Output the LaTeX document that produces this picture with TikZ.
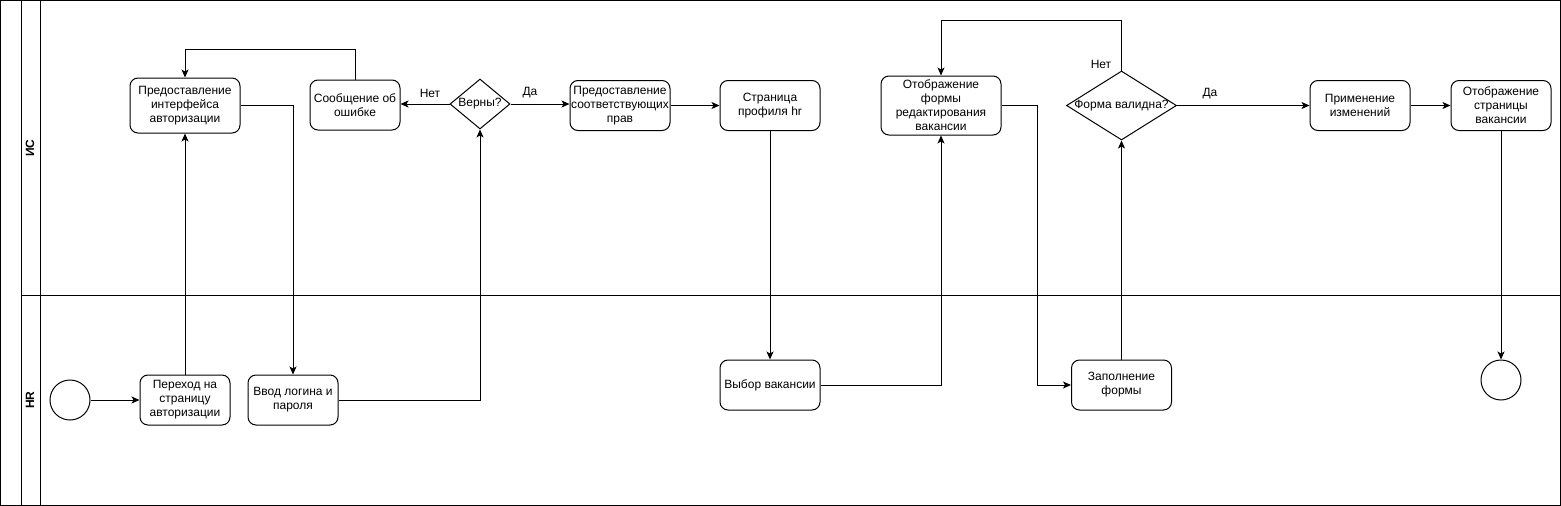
\documentclass[tikz,border=0pt]{standalone}
\usepackage{fontspec}
\setmainfont{Liberation Sans}
\usetikzlibrary{shapes.geometric,arrows.meta}
\begin{document}
\begin{tikzpicture}[x=1pt,y=-1pt,
  every node/.style={font=\fontsize{12}{14}\selectfont},
  task/.style={draw, rounded corners=8pt, align=center, minimum width=100pt, minimum height=50pt, inner sep=1pt, line width=1pt},
  gate/.style={draw, diamond, inner sep=0pt, line width=1pt},
  evt/.style={draw, circle, minimum size=40pt, inner sep=0pt, line width=1pt},
  arr/.style={-{Stealth[length=8pt,width=7pt,inset=2pt]}, line width=1pt},
  lbl/.style={inner sep=1pt},
  lane/.style={font=\bfseries\fontsize{12}{14}\selectfont, rotate=90, inner sep=0pt},
  frame/.style={line width=1pt}
]
\useasboundingbox (0,0) rectangle (1561,506);
% pool and lanes
\draw[frame] (0.5,0.5) rectangle (1560.5,505.5);
\draw[frame] (21,0.5) -- (21,505.5);
\draw[frame] (40,0.5) -- (40,505.5);
\draw[frame] (21,295) -- (1560.5,295);
\node[lane] (lis) at (30,148) {ИС};
\node[lane] (lhr) at (30,400) {HR};

% IS lane
\node[task, minimum width=110pt, minimum height=55pt] (iface) at (185,105.5) {Предоставление\\интерфейса\\авторизации};
\node[task, minimum width=90pt] (msg) at (355,105) {Сообщение об\\ошибке};
\node[gate, minimum width=60pt, minimum height=50pt, label=center:Верны?] (d1) at (480,104) {};
\node[task] (rights) at (620,105.5) {Предоставление\\соответствующих\\прав};
\node[task] (prof) at (770,105.5) {Страница\\профиля hr};
\node[task, minimum width=120pt, minimum height=59pt] (form) at (941,105.5) {Отображение\\формы\\редактирования\\вакансии};
\node[gate, minimum width=110pt, minimum height=69pt, label=center:Форма валидна?] (d2) at (1121.5,105.5) {};
\node[task] (apply) at (1360,105.5) {Применение\\изменений};
\node[task] (page) at (1501,105.5) {Отображение\\страницы\\вакансии};

% HR lane
\node[evt] (start) at (70,400) {};
\node[task, minimum width=90pt] (go) at (185,400) {Переход на\\страницу\\авторизации};
\node[task, minimum width=90pt] (login) at (293,400) {Ввод логина и\\пароля};
\node[task] (pick) at (770,385) {Выбор вакансии};
\node[task] (fill) at (1121.5,385) {Заполнение\\формы};
\node[evt] (end) at (1501,380) {};

% labels
\node[lbl] (no1) at (430,93) {Нет};
\node[lbl] (yes1) at (530,93) {Да};
\node[lbl] (no2) at (1101,64) {Нет};
\node[lbl] (yes2) at (1210,94) {Да};

% connectors
\draw[arr] (start) -- (go);
\draw[arr] (go) -- (iface);
\draw[arr] (iface.east) -| (login.north);
\draw[arr] (login.east) -| (d1.south);
\draw[arr] (d1.west) -- (msg.east |- d1.west);
\draw[arr] (msg.north) -- ++(0,-30) -| (iface.north);
\draw[arr] (d1.east) -- (rights.west |- d1.east);
\draw[arr] (rights) -- (prof);
\draw[arr] (prof) -- (pick);
\draw[arr] (pick.east) -| (form.south);
\draw[arr] (form.east) -- ++(36,0) |- (fill.west);
\draw[arr] (fill) -- (d2);
\draw[arr] (d2.north) -- ++(0,-50) -| (form.north);
\draw[arr] (d2) -- (apply);
\draw[arr] (apply) -- (page);
\draw[arr] (page) -- (end);
\end{tikzpicture}
\end{document}
